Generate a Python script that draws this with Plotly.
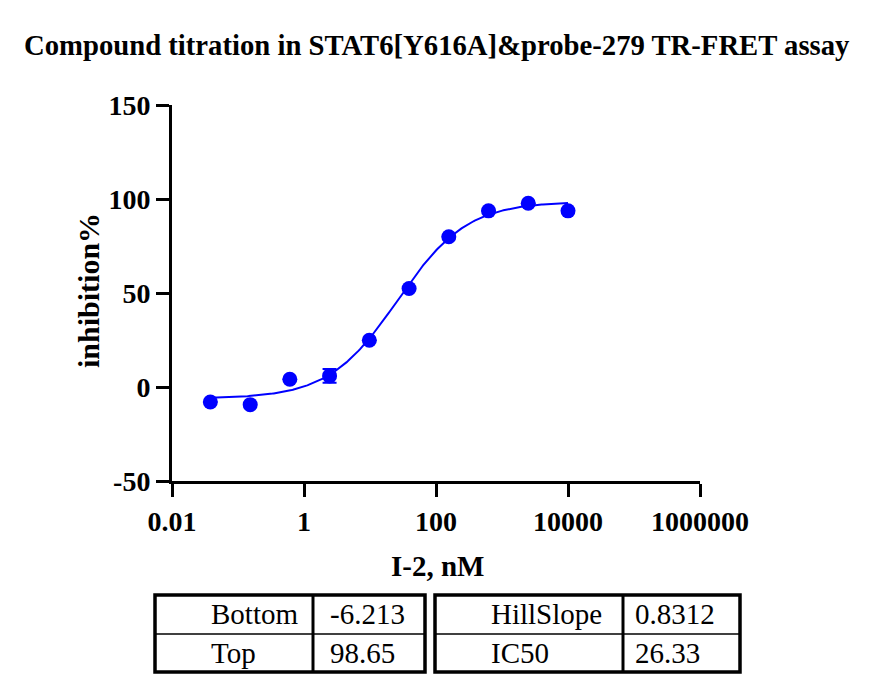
import numpy as np
import plotly.graph_objects as go

# ── Data ──────────────────────────────────────────────────────────────────────
conc_nM = [0.0381, 0.153, 0.610, 2.44, 9.77, 39.1, 156.3, 625.0, 2500.0, 10000.0]
inhibition = [-8.0, -9.4, 4.1, 5.9, 24.9, 52.4, 79.9, 93.7, 97.7, 93.7]
inhibition_sd = [0, 0, 0, 3.7, 0, 0, 0, 0, 0, 0]

# four-parameter fit results (shown in table)
fit_names_left = ["Bottom", "Top"]
fit_vals_left = ["-6.213", "98.65"]
fit_names_right = ["HillSlope", "IC50"]
fit_vals_right = ["0.8312", "26.33"]
bottom, top, hill, ic50 = -6.213, 98.65, 0.8312, 26.33

x_ticks = [0.01, 1, 100, 10000, 1000000]
x_ticktext = ["0.01", "1", "100", "10000", "1000000"]
y_ticks = [-50, 0, 50, 100, 150]
y_ticktext = ["-50", "0", "50", "100", "150"]

BLUE = "#0000FF"
SERIF = "Liberation Serif, Times New Roman, serif"

# fitted curve over the tested range
xc = np.logspace(np.log10(conc_nM[0]), np.log10(conc_nM[-1]), 300)
yc = bottom + (top - bottom) / (1 + 10 ** ((np.log10(ic50) - np.log10(xc)) * hill))

# plot area in pixels: x 172..700, y 105..481
L, R, T, B = 172, 700, 105, 481


def px(x):
    return (x - L) / (R - L)


def py(y):
    return (B - y) / (B - T)


fig = go.Figure()
fig.add_trace(go.Scatter(x=xc, y=yc, mode="lines",
                         line=dict(color=BLUE, width=2), hoverinfo="skip"))
fig.add_trace(go.Scatter(
    x=conc_nM, y=inhibition, mode="markers",
    marker=dict(color=BLUE, size=15),
    error_y=dict(type="data", array=inhibition_sd, color=BLUE,
                 thickness=2, width=7),
))

axis_common = dict(
    showline=True, linewidth=3, linecolor="black", mirror=False,
    ticks="outside", ticklen=13, tickwidth=3, tickcolor="black",
    showgrid=False, zeroline=False,
    tickfont=dict(family=SERIF, size=28, color="black", weight="bold"),
)

fig.update_xaxes(type="log", range=[-2, 6], tickvals=x_ticks,
                 ticktext=x_ticktext, **axis_common)
fig.update_yaxes(range=[-50, 150], tickvals=y_ticks, ticktext=y_ticktext,
                 **axis_common)

ann = [
    dict(text="<b>Compound titration in STAT6[Y616A]&amp;probe-279 TR-FRET assay</b>",
         x=px(437), y=py(45), font=dict(size=28.7)),
    dict(text="<b>inhibition%</b>", x=px(88), y=py(291), textangle=-90,
         font=dict(size=30)),
    dict(text="<b>I-2, nM</b>", x=px(437), y=py(566), font=dict(size=29)),
]
for i in range(2):
    yrow = py(614 + 39 * i)
    ann.append(dict(text=fit_names_left[i], x=px(209), y=yrow, xanchor="left"))
    ann.append(dict(text=fit_vals_left[i], x=px(328), y=yrow, xanchor="left"))
    ann.append(dict(text=fit_names_right[i], x=px(489), y=yrow, xanchor="left"))
    ann.append(dict(text=fit_vals_right[i], x=px(633), y=yrow, xanchor="left"))
for a in ann:
    a.setdefault("xref", "paper")
    a.setdefault("yref", "paper")
    a.setdefault("showarrow", False)
    a.setdefault("yanchor", "middle")
    a.setdefault("xanchor", "center")
    f = a.setdefault("font", {})
    f.setdefault("size", 29)
    f["family"] = SERIF
    f["color"] = "black"

shapes = []
for x0, xd, x1 in [(155, 313, 425), (435, 623, 740)]:
    shapes.append(dict(type="rect", xref="paper", yref="paper",
                       x0=px(x0), x1=px(x1), y0=py(595), y1=py(672),
                       line=dict(color="black", width=3.5)))
    shapes.append(dict(type="line", xref="paper", yref="paper",
                       x0=px(xd), x1=px(xd), y0=py(595), y1=py(672),
                       line=dict(color="black", width=3)))
    shapes.append(dict(type="line", xref="paper", yref="paper",
                       x0=px(x0), x1=px(x1), y0=py(634), y1=py(634),
                       line=dict(color="black", width=1.5)))

fig.update_layout(
    width=876, height=691,
    margin=dict(l=L, r=876 - R, t=T, b=691 - B),
    plot_bgcolor="white", paper_bgcolor="white",
    showlegend=False,
    annotations=ann, shapes=shapes,
)

# drop the default 8px page margin so the figure sits at the window origin
fig.write_html("out.html", config={"displayModeBar": False},
               post_script="document.body.style.margin='0';")
